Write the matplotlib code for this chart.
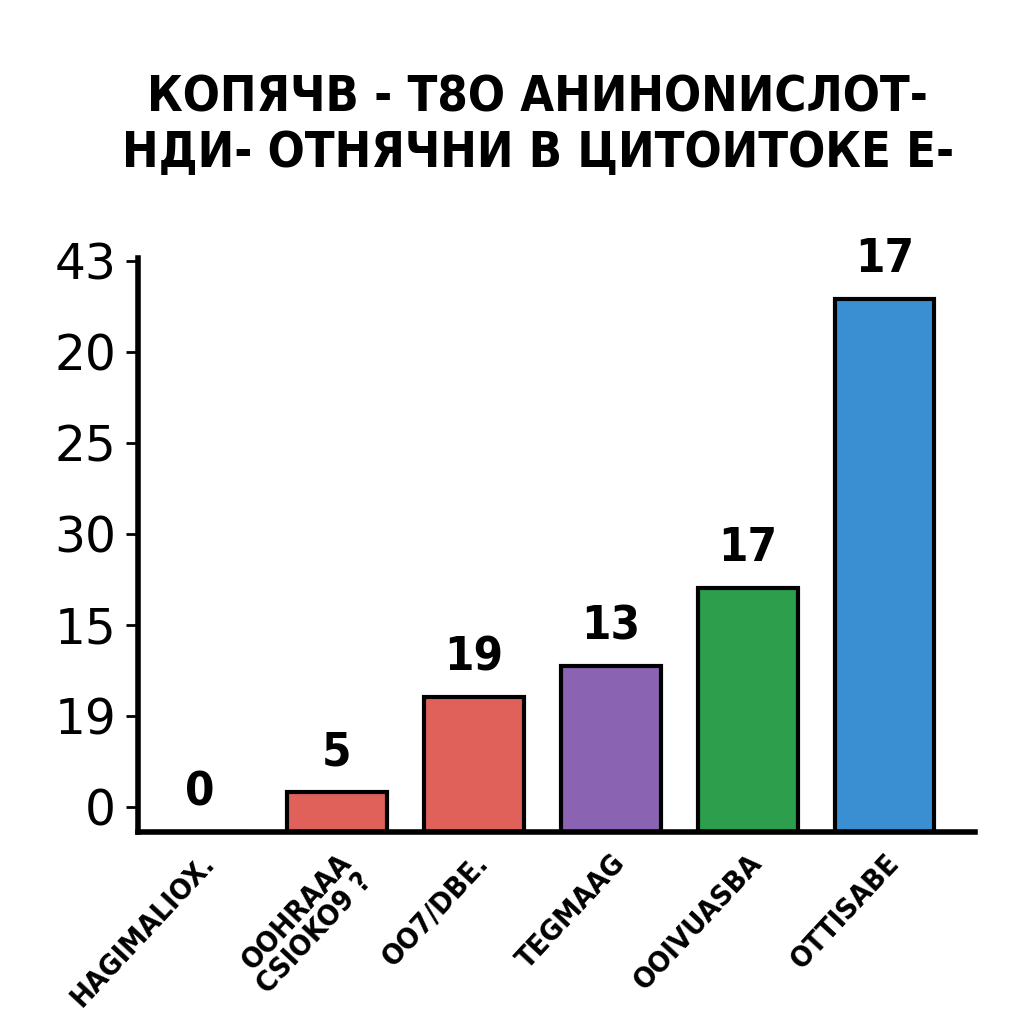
import matplotlib
matplotlib.use("Agg")
import matplotlib.pyplot as plt

# chart values
categories = ["HAGIMALIOX.", "OOHRAAA\nCSIOKO9 ?", "OO7/DBE.", "TEGMAAG", "OOIVUASBA", "OTTISABE"]
heights = [0, 2.2, 7.4, 9.1, 13.4, 29.3]
value_labels = ["0", "5", "19", "13", "17", "17"]
bar_colors = ["#e0605a", "#e0605a", "#e0605a", "#8b63b3", "#2c9e4c", "#3a8fd3"]
ytick_pos = [1.4, 6.4, 11.4, 16.4, 21.4, 26.4, 31.4]
ytick_labels = ["0", "19", "15", "30", "25", "20", "43"]
title = "КОПЯЧВ - Т8О АНИНОNИСЛОТ-\nНДИ- ОТНЯЧНИ В ЦИТОИТОКЕ Е-"

narrow = ["DejaVu Sans"]

fig = plt.figure(figsize=(10.24, 10.24), dpi=100)
ax = fig.add_axes([0.135, 0.1875, 0.817, 0.5605])

x = list(range(len(categories)))
bars = ax.bar(x, heights, width=0.73, color=bar_colors, edgecolor="black", linewidth=3)

for xi, h, lab in zip(x, heights, value_labels):
    ax.annotate(lab, (xi, h), xytext=(0, 12), textcoords="offset points",
                ha="center", va="bottom", fontsize=34, fontweight="bold",
                family=narrow, fontstretch="condensed")

ax.set_xlim(-0.45, 5.66)
ax.set_ylim(0, 31.54)

ax.set_yticks(ytick_pos)
ax.set_yticklabels(ytick_labels, fontsize=35)
ax.tick_params(axis="y", length=9, width=2, pad=7)

ax.set_xticks(x)
ax.set_xticklabels(categories, rotation=47, ha="right", rotation_mode="anchor",
                   fontsize=21, fontweight="bold", family=narrow, fontstretch="condensed",
                   linespacing=0.95)
ax.tick_params(axis="x", length=0, pad=12)

for side in ["top", "right"]:
    ax.spines[side].set_visible(False)
ax.spines["left"].set_linewidth(4)
ax.spines["bottom"].set_linewidth(4)

fig.text(0.525, 0.878, title, ha="center", va="center", fontsize=35, fontweight="bold",
         family=narrow, fontstretch="condensed", linespacing=1.2)

fig.savefig("out.png", dpi=100, facecolor="white")
